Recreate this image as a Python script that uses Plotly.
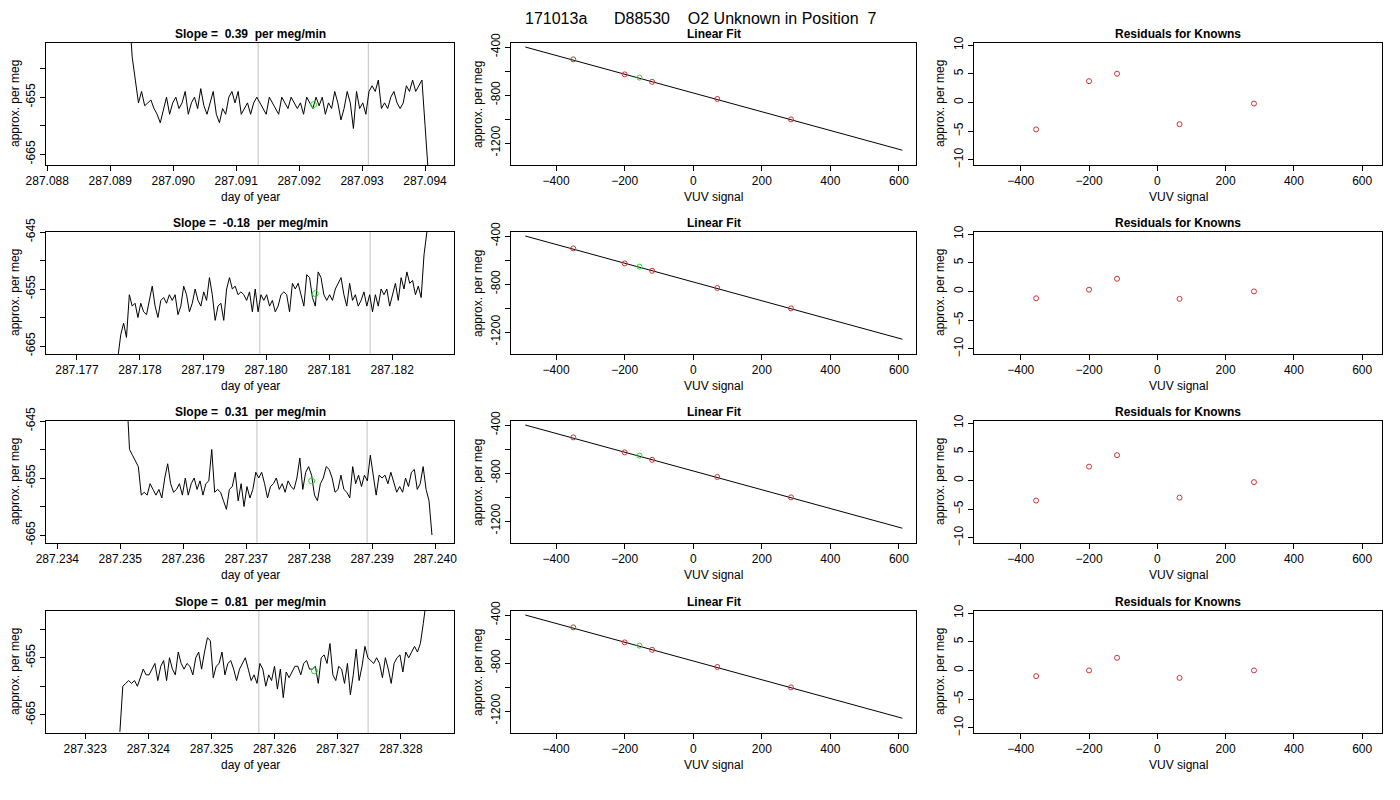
import numpy as np
import plotly.graph_objects as go

# ---------------- data ----------------
ts1 = [-640, -648, -652, -656, -654, -656.5, -656, -655.5, -657, -658, -659.5, -657, -655, -658, -656, -655, -657, -656,
       -654, -658, -656, -655, -657, -653.5, -656.5, -658, -656, -654, -658, -659.5, -657, -658, -655, -654, -656, -654,
       -658, -657, -656, -658, -656, -655, -656, -657, -658, -655, -656, -657, -658, -655, -656, -657, -655, -656, -657,
       -656, -658, -655, -656, -657, -655, -656.5, -655, -658, -656, -657, -654, -656, -659, -657, -654, -656, -660.5,
       -654, -657, -656, -658, -654, -653, -654, -652, -657, -656, -657, -655, -654, -656, -657, -656, -653, -654, -652,
       -654, -653, -652, -660, -668]
ts1_t = (287.08930, 287.09405)
ts2 = [-667, -663, -661, -663.5, -656, -658, -657.5, -660, -657.5, -659, -659.5, -657, -654.5, -658, -660, -657, -656.5,
       -657.5, -656, -657, -656, -659.5, -658, -654.5, -656, -659, -657.5, -655, -657, -658, -655.5, -657, -653, -656,
       -660.5, -658, -657.5, -660.5, -655, -653, -655, -654.5, -656, -655.5, -656, -657, -655.5, -659, -655, -659, -656,
       -657, -656, -658, -657, -659, -658, -656, -655.5, -656, -659, -654, -655, -654, -656, -658, -652.5, -653, -656.5,
       -658, -652, -653, -656, -657, -656, -657, -655, -654, -653, -656, -658, -654, -657, -656, -658, -657, -655.5,
       -658, -656, -659, -656, -658, -655, -656, -655, -658, -656, -654, -657, -653, -655, -652, -654, -653.5, -656,
       -654.5, -656.5, -649, -645]
ts2_t = (287.17765, 287.18255)
ts3 = [-640, -650, -651, -652, -653, -658, -657.5, -658, -656, -657, -658, -657, -658.5, -655, -652.5, -656, -657.5, -657,
       -656, -658, -655, -658, -656, -655, -657, -655.5, -658, -656, -655.5, -650, -657.5, -657, -657.5, -659, -660.5,
       -657, -656.5, -654, -659, -656, -660, -656.5, -658.5, -657, -654, -655, -654, -656, -658.5, -656.5, -656, -655,
       -657, -656, -657.5, -655.5, -656.5, -657, -655, -651.5, -657, -654, -653, -654.5, -658, -659, -656, -655,
       -653, -653.5, -655, -657.5, -657, -654.5, -657, -657.5, -658.5, -653, -656, -654.5, -656.5, -654.5, -655.5,
       -651, -655, -658, -654.5, -655, -654.5, -656, -654, -656, -657.5, -656.5, -657.5, -655, -656.5, -654, -653.5,
       -657, -656, -653, -657, -659, -665]
ts3_t = (287.23510, 287.23995)
ts4 = [-668, -660, -659.5, -659, -659.5, -659, -660, -658.5, -657, -658, -658, -657, -656, -659, -656.5, -655.5, -659,
       -655, -657, -658, -654, -656, -657, -656, -656.5, -658, -655, -654, -657, -654, -651.5, -652, -658.5, -656.5,
       -656, -654, -658, -656, -655.5, -657, -659, -657, -656, -655, -657, -659, -658, -659.5, -656, -657, -660, -658,
       -659, -656.5, -660.5, -657, -662, -657.5, -658.5, -657.5, -656.5, -656.5, -658, -656, -655.5, -657, -657,
       -656.5, -659.5, -655, -654.5, -656, -652.5, -658, -659, -656.5, -657, -659.5, -656, -661.5, -658, -653.5, -659,
       -656.5, -653, -655, -655.5, -656, -655, -656, -658.5, -655, -657, -659.5, -656, -655, -654.5, -657.5, -654,
       -655, -654, -653, -654, -652.5, -649, -645]
ts4_t = (287.32355, 287.32840)
series = [ts1, ts2, ts3, ts4]
series_t = [ts1_t, ts2_t, ts3_t, ts4_t]
slopes = ["0.39", "-0.18", "0.31", "0.81"]
green_t = [287.09223, 287.18078, 287.23804, 287.32663]
green_v = [-656.3, -655.8, -655.5, -657.3]
vlines = [(287.09135, 287.09310), (287.17990, 287.18165), (287.23717, 287.23892), (287.32575, 287.32748)]
x_ranges = [(287.08798, 287.09446), (287.17651, 287.18298), (287.23382, 287.24030), (287.32238, 287.32884)]
y_ranges = [(-666.9, -645.5), (-666.4, -645.0), (-666.4, -645.0), (-668.2, -646.8)]

known_x = [-350, -200, -120, 70, 285]
known_y = [-503, -628, -690, -833, -1003]
unk_x = [-157]
unk_y = [-655]
fit_x = [-490, 610]
fit_y = [-400, -1260]
resid_x = [-355, -200, -118, 65, 283]
resids = [[-4.7, 3.7, 5.0, -3.8, -0.2],
          [-1.2, 0.3, 2.2, -1.3, 0.0],
          [-3.5, 2.4, 4.4, -3.0, -0.3],
          [-1.0, 0.0, 2.2, -1.3, 0.0]]

# ---------------- layout ----------------
W, H = 1400, 800
OFF = 8  # page body margin
xd = [(46, 454), (511, 916), (974, 1382)]
ylab_dx = [31, 33, 34]
yd = [(43, 165), (232, 354), (421, 543), (611, 733)]
FONT = "Liberation Sans, Arial, sans-serif"

def px(p):
    return (p - OFF) / W

def py(p):
    return 1 - (p - OFF) / H

fig = go.Figure()
layout = dict(width=W, height=H, autosize=False, margin=dict(l=0, r=0, t=0, b=0, autoexpand=False),
              plot_bgcolor="white", paper_bgcolor="white", showlegend=False,
              font=dict(family=FONT, size=12, color="black"))
annotations = []

def axcommon():
    return dict(showline=True, mirror=True, linecolor="black", linewidth=1, ticks="outside",
                ticklen=5, tickcolor="black", showgrid=False, zeroline=False, automargin=False,
                tickfont=dict(size=12, family=FONT))

def ann(text, x, y, size=12, angle=0, yanchor="middle"):
    return dict(text=text, x=x, y=y, xref="paper", yref="paper", showarrow=False,
                xanchor="center", yanchor=yanchor, textangle=angle,
                font=dict(size=size, family=FONT, color="black"))

k = 0
for r in range(4):
    y0 = py(yd[r][1])
    y1 = py(yd[r][0])
    for c in range(3):
        k += 1
        xa = "x" if k == 1 else f"x{k}"
        ya = "y" if k == 1 else f"y{k}"
        xkey = "xaxis" if k == 1 else f"xaxis{k}"
        ykey = "yaxis" if k == 1 else f"yaxis{k}"
        xax = axcommon(); yax = axcommon()
        xax.update(domain=[px(xd[c][0]), px(xd[c][1])], anchor=ya)
        yax.update(domain=[y0, y1], anchor=xa, tickangle=-90)
        if c == 0:
            vals = series[r]
            t = np.linspace(series_t[r][0], series_t[r][1], len(vals))
            for vl in vlines[r]:
                fig.add_trace(go.Scatter(x=[vl, vl], y=list(y_ranges[r]), mode="lines",
                                         line=dict(color="#cccccc", width=1.2), xaxis=xa, yaxis=ya))
            fig.add_trace(go.Scatter(x=t, y=vals, mode="lines", line=dict(color="black", width=1),
                                     xaxis=xa, yaxis=ya))
            fig.add_trace(go.Scatter(x=[green_t[r]], y=[green_v[r]], mode="markers",
                                     marker=dict(symbol="circle-open", color="#22dd22", size=6),
                                     xaxis=xa, yaxis=ya))
            lo = x_ranges[r][0]
            tv = [round(np.ceil(lo * 1000) / 1000 + i * 0.001, 3) for i in range(7)]
            xax.update(range=list(x_ranges[r]), tickvals=tv, ticktext=[f"{v:.3f}" for v in tv])
            yt = [-665, -660, -655, -650, -645]
            yax.update(range=list(y_ranges[r]), tickvals=yt,
                       ticktext=["-665", "", "-655", "", "-645"])
            title = f"Slope =  {slopes[r]}  per meg/min"
            xt, yt_ = "day of year", "approx. per meg"
        elif c == 1:
            fig.add_trace(go.Scatter(x=fit_x, y=fit_y, mode="lines", line=dict(color="black", width=1),
                                     xaxis=xa, yaxis=ya))
            fig.add_trace(go.Scatter(x=known_x, y=known_y, mode="markers",
                                     marker=dict(symbol="circle-open", color="#cc3333", size=5),
                                     xaxis=xa, yaxis=ya))
            fig.add_trace(go.Scatter(x=unk_x, y=unk_y, mode="markers",
                                     marker=dict(symbol="circle-open", color="#22dd22", size=5),
                                     xaxis=xa, yaxis=ya))
            xax.update(range=[-531.6, 649.7], tickvals=[-400, -200, 0, 200, 400, 600])
            yax.update(range=[-1383, -366.7], tickvals=[-1200, -1000, -800, -600, -400],
                       ticktext=["-1200", "", "-800", "", "-400"])
            title = "Linear Fit"
            xt, yt_ = "VUV signal", "approx. per meg"
        else:
            fig.add_trace(go.Scatter(x=resid_x, y=resids[r], mode="markers",
                                     marker=dict(symbol="circle-open", color="#cc3333", size=5),
                                     xaxis=xa, yaxis=ya))
            xax.update(range=[-537, 658], tickvals=[-400, -200, 0, 200, 400, 600])
            yax.update(range=[-10.9, 10.35], tickvals=[-10, -5, 0, 5, 10])
            title = "Residuals for Knowns"
            xt, yt_ = "VUV signal", "approx. per meg"
        layout[xkey] = xax
        layout[ykey] = yax
        xm = px((xd[c][0] + xd[c][1]) / 2)
        annotations.append(ann(f"<b>{title}</b>", xm, py(yd[r][0] - 9)))
        annotations.append(ann(xt, xm, py(yd[r][1] + 32)))
        annotations.append(ann(yt_, px(xd[c][0] - ylab_dx[c]), (y0 + y1) / 2, angle=-90))

annotations.append(ann("171013a      D88530    O2 Unknown in Position  7", px(700), 1.0, size=16,
                       yanchor="top"))
layout["annotations"] = annotations
fig.update_layout(**layout)
fig.write_html("out.html")
